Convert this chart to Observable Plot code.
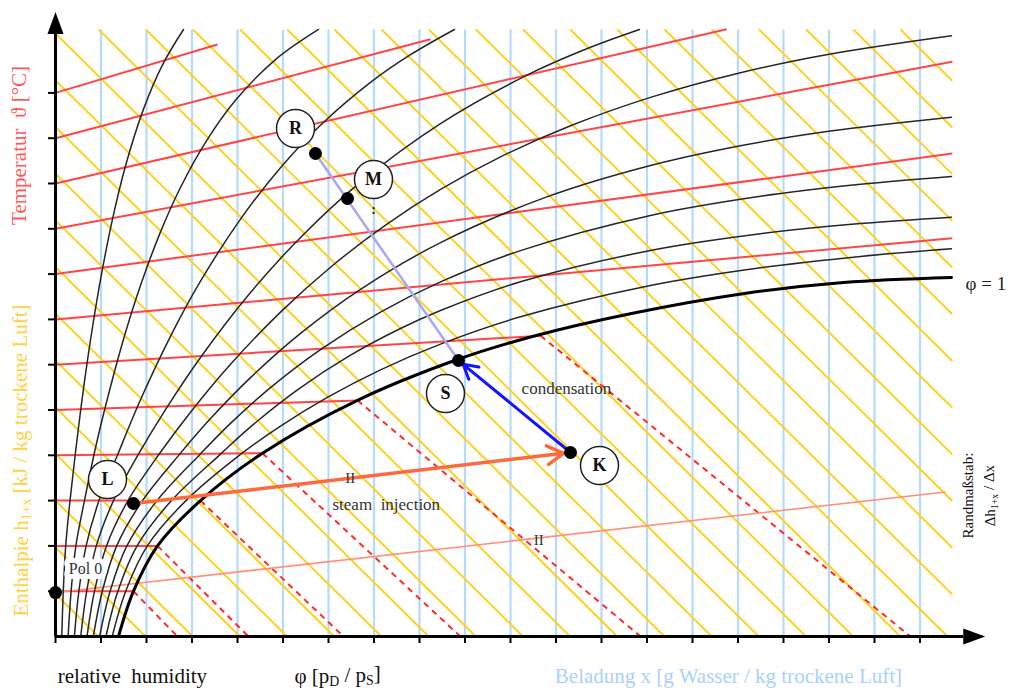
<!DOCTYPE html>
<html><head><meta charset="utf-8">
<script src="https://cdn.jsdelivr.net/npm/d3@7"></script>
<script src="https://cdn.jsdelivr.net/npm/@observablehq/plot@0.6"></script>
<style>body{margin:0;background:#fff}</style>
</head><body><div id="chart"></div>
<script>
// ---------- chart values (x: Beladung tick units, y: enthalpy / temperature tick units) ----------
const xTicks = [0,1,2,3,4,5,6,7,8,9,10,11,12,13,14,15,16,17,18,19];
const yTicks = [1,2,3,4,5,6,7,8,9,10,11,12];
const moistureGrid = [1,2,3,4,5,6,7,8,9,10,11,12,13,14,15,16,17,18,19];
const gridRight = 19.71, gridTop = 13.4;
const isenthalpSlope = 0.9944;
const enthalpyIntercepts = [0.938,1.969,3.0,4.031,5.062,6.093,7.124,8.155,9.186,10.217,11.248,12.279,13.31,
  14.341,15.372,16.403,17.434,18.465,19.496,20.527,21.558,22.589,23.62,24.651,25.682,26.713,27.744,28.775,29.806,30.837,31.868];
const isothermLevels = [1,2,3,4,5,6,7,8,9,10,11,12];
const isothermSlopes = [0,0,0,0.01,0.032,0.06,0.091,0.135,0.187,0.231,0.265,0.30];
const isothermEndX = [1.714,2.242,1.714,4.549,6.637,10.66,19.71,19.71,19.71,14.75,8.24,3.56];
const fogStartX = [1.714,2.242,3.187,4.549,6.637,10.66];
const fogEndX = [2.68,4.24,6.33,8.90,12.86,18.79];

const phiLevels = ["0.1","0.2","0.3","0.4","0.5","0.6","0.7","0.8","0.9","1"];
const phi01 = [[0.138,0],[0.171,1],[0.224,2],[0.319,3],[0.44,4.073],[0.593,5.3],[0.769,6.541],[0.989,7.876],[1.253,9.212],[1.538,10.386],[1.934,11.642],[2.352,12.62],[2.813,13.4]];
const phi02 = [[0.277,0],[0.343,1],[0.448,2],[0.637,3],[0.901,4.26],[1.209,5.512],[1.538,6.709],[1.868,7.748],[2.308,8.932],[2.747,9.912],[3.297,10.909],[3.956,11.837],[4.835,12.735],[5.78,13.4]];
const phi03 = [[0.415,0],[0.514,1],[0.673,2],[0.956,3],[1.365,4.013],[1.868,5.225],[2.527,6.627],[3.187,7.843],[4.066,9.214],[4.945,10.349],[5.824,11.287],[6.923,12.232],[7.802,12.843],[8.769,13.4]];
const phi04 = [[0.554,0],[0.686,1],[0.897,2],[1.275,3],[1.82,4.018],[2.418,5.009],[3.187,6.159],[4.286,7.592],[5.385,8.808],[6.703,10.029],[8.462,11.324],[10.44,12.43],[11.758,13.007],[12.835,13.4]];
const phi05 = [[0.692,0],[0.857,1],[1.121,2],[1.593,3],[2.275,4.022],[2.967,4.951],[3.846,6.009],[4.945,7.161],[6.044,8.152],[7.253,9.082],[8.462,9.868],[9.78,10.587],[11.319,11.274],[13.077,11.901],[15.055,12.446],[17.033,12.859],[19.692,13.263]];
const phi06 = [[0.831,0],[1.029,1],[1.345,2],[1.912,3],[2.73,4.026],[3.407,4.81],[4.286,5.715],[5.385,6.691],[6.703,7.664],[8.462,8.695],[10.769,9.693],[13.077,10.397],[15.055,10.834],[17.033,11.157],[19.692,11.464]];
const phi07 = [[0.969,0],[1.2,1],[1.569,2],[2.231,3],[3.185,4.031],[3.846,4.704],[4.725,5.494],[5.824,6.333],[7.143,7.161],[8.462,7.828],[10.22,8.519],[13.077,9.294],[15.495,9.717],[17.692,9.982],[19.692,10.155]];
const phi08 = [[1.108,0],[1.371,1],[1.793,2],[2.549,3],[3.64,4.038],[4.286,4.629],[5.31,5.441],[6.484,6.21],[7.582,6.799],[8.462,7.196],[10.22,7.83],[13.077,8.521],[15.495,8.89],[17.692,9.115],[19.692,9.256]];
const phi09 = [[1.246,0],[1.543,1],[2.018,2],[2.868,3],[4.095,4.042],[4.945,4.645],[5.974,5.278],[7.143,5.887],[8.462,6.455],[10.22,7.057],[13.077,7.748],[15.495,8.139],[17.692,8.391],[19.692,8.559]];
const phi10 = [[1.385,0],[1.714,1],[2.242,2],[3.187,3],[4.549,4.046],[6.637,5.214],[8.835,6.115],[10.484,6.623],[12.659,7.13],[15.143,7.572],[17.319,7.815],[19.692,7.925]];
const phiCurves = [phi01,phi02,phi03,phi04,phi05,phi06,phi07,phi08,phi09,phi10];

const stateNames = ["R","M","S","K","L"];
const stateX = [5.714,6.418,8.857,11.319,1.714];
const stateY = [10.662,9.669,6.093,4.062,2.936];
const labelX = [5.275,6.989,8.571,11.956,1.143];
const labelY = [11.214,10.088,5.364,3.775,3.466];
const pole = {x: 0, y: 0.97};
const poleLineEnd = {x: 19.56, y: 3.19};
const axisEnds = {x: 19.95, y: 13.3};

// ---------- derived geometry ----------
const phiRows = [];
phiLevels.forEach((p, i) => phiCurves[i].forEach(([x, y]) => phiRows.push({phi: p, x, y})));
const st = Object.fromEntries(stateNames.map((n, i) => [n, {x: stateX[i], y: stateY[i]}]));

const yellowSegs = enthalpyIntercepts.map(c => {
  let x1 = 0, y1 = c;
  if (c > gridTop) { x1 = (c - gridTop) / isenthalpSlope; y1 = gridTop; }
  let x2 = c / isenthalpSlope, y2 = 0;
  if (x2 > gridRight) { x2 = gridRight; y2 = c - isenthalpSlope * gridRight; }
  return {x1, y1, x2, y2};
}).filter(d => d.x1 < d.x2);
const blueSegs = moistureGrid.map(x => ({x1: x, y1: 0, x2: x, y2: gridTop}));
const isoSegs = isothermLevels.map((k, i) => ({x1: 0, y1: k, x2: isothermEndX[i], y2: k + isothermSlopes[i] * isothermEndX[i]}));
const fogSegs = fogStartX.map((x, i) => ({x1: x, y1: isothermLevels[i] + isothermSlopes[i] * x, x2: fogEndX[i], y2: 0}));
const L = d => ({x1: "x1", y1: "y1", x2: "x2", y2: "y2", ...d});

const arrowHead = {draw(ctx) { ctx.moveTo(0, -22); ctx.lineTo(8, 0); ctx.lineTo(-8, 0); ctx.closePath(); }};
const serif = "'Liberation Serif', 'Times New Roman', serif";

const texts = [
  {x: -0.79, y: 10.84, t: "Temperatur  ϑ [°C]", c: "#ff5a5a", r: -90, s: 21},
  {x: -0.75, y: 3.885, t: "Enthalpie h_{1+x} [kJ / kg trockene Luft]", c: "#ffd23f", r: -90, s: 21},
  {x: 1.69, y: -0.88, t: "relative  humidity", c: "#111", r: 0, s: 21},
  {x: 6.2, y: -0.88, t: "φ [p_{D} / p_{S}]", c: "#111", r: 0, s: 21},
  {x: 14.79, y: -0.88, t: "Beladung x [g Wasser / kg trockene Luft]", c: "#a9d1fb", r: 0, s: 21},
  {x: 7.27, y: 2.91, t: "steam  injection", c: "#333", r: 0, s: 17},
  {x: 11.23, y: 5.47, t: "condensation", c: "#333", r: 0, s: 17},
  {x: 20.07, y: 3.11, t: "Randmaßstab:", c: "#111", r: -90, s: 15},
  {x: 20.55, y: 3.11, t: "Δh_{1+x} / Δx", c: "#111", r: -90, s: 15}
];

const plot = Plot.plot({
  width: 1015, height: 690,
  marginLeft: 55, marginRight: 4.5, marginTop: 1.8, marginBottom: 54,
  x: {domain: [0, 21]},
  y: {domain: [0, 14]},
  style: {background: "white", fontFamily: serif},
  marks: [
    Plot.link(blueSegs, L({stroke: "#b5d9ff", strokeWidth: 2.2})),
    Plot.link(yellowSegs, L({stroke: "#ffd21f", strokeWidth: 2})),
    Plot.link(isoSegs, L({stroke: "#ff4545", strokeWidth: 2})),
    Plot.link(fogSegs, L({stroke: "#ff2b2b", strokeWidth: 2, strokeDasharray: "6,5"})),
    Plot.link([{x1: pole.x, y1: pole.y, x2: poleLineEnd.x, y2: poleLineEnd.y}], L({stroke: "#ff8f75", strokeWidth: 1.6})),
    Plot.line(phiRows.filter(d => d.phi !== "1"), {x: "x", y: "y", z: "phi", stroke: "#262626", strokeWidth: 1.5, curve: "catmull-rom"}),
    Plot.line(phiRows.filter(d => d.phi === "1"), {x: "x", y: "y", stroke: "#000", strokeWidth: 3, curve: "catmull-rom"}),
    Plot.link([{x1: st.R.x, y1: st.R.y, x2: st.S.x, y2: st.S.y}], L({stroke: "#a8a8f2", strokeWidth: 2.5})),
    Plot.arrow([{x1: st.L.x, y1: st.L.y, x2: st.K.x, y2: st.K.y}], L({stroke: "#ff6a3d", strokeWidth: 3.5, headLength: 8, insetEnd: 7})),
    Plot.arrow([{x1: st.K.x, y1: st.K.y, x2: st.S.x, y2: st.S.y}], L({stroke: "#1414ff", strokeWidth: 3, headLength: 8, insetEnd: 6})),
    Plot.axisX({ticks: xTicks, tickSize: 7, strokeWidth: 2, tickFormat: () => "", label: null}),
    Plot.axisY({ticks: yTicks, tickSize: 7, strokeWidth: 2, tickFormat: () => "", label: null}),
    Plot.link([{x1: 0, y1: 0, x2: axisEnds.x, y2: 0}, {x1: 0, y1: 0, x2: 0, y2: axisEnds.y}], L({stroke: "#000", strokeWidth: 3})),
    Plot.dot([{x: 0, y: axisEnds.y, a: 0}, {x: axisEnds.x, y: 0, a: 90}], {x: "x", y: "y", rotate: "a", symbol: arrowHead, fill: "#000", r: 5}),
    Plot.dot(stateNames.map((n, i) => ({x: stateX[i], y: stateY[i]})).concat([pole]), {x: "x", y: "y", r: 6.5, fill: "#000"}),
    Plot.dot(stateNames.map((n, i) => ({x: labelX[i], y: labelY[i]})), {x: "x", y: "y", r: 19, fill: "white", stroke: "#222", strokeWidth: 1.5}),
    Plot.text(stateNames.map((n, i) => ({x: labelX[i], y: labelY[i], n})), {x: "x", y: "y", text: "n", fontSize: 18, fontWeight: "bold", fill: "#111", fontFamily: serif}),
    Plot.text([{x: 6.99, y: 9.42}], {x: "x", y: "y", text: () => ":", fontSize: 14, fontWeight: "bold", fill: "#222", fontFamily: serif}),
    Plot.text([{x: 6.48, y: 3.49}, {x: 10.62, y: 2.12}], {x: "x", y: "y", text: () => "II", fontSize: 15, fill: "#333", fontFamily: serif}),
    Plot.text([{x: 0.66, y: 1.5}], {x: "x", y: "y", text: () => "Pol 0", fontSize: 16, fill: "#333", stroke: "white", strokeWidth: 10, fontFamily: serif}),
    Plot.text([{x: 20.0, y: 7.79}], {x: "x", y: "y", text: () => "φ = 1", fontSize: 19, fill: "#222", textAnchor: "start", fontFamily: serif}),
    Plot.text(texts, {x: "x", y: "y", text: "t", fill: "c", rotate: "r", fontSize: "s", fontFamily: serif})
  ]
});

// render "_{...}" as subscripts
d3.select(plot).selectAll("text").each(function() {
  const s = this.textContent;
  if (!s.includes("_{")) return;
  const parts = s.split(/_\{([^}]*)\}/);
  this.textContent = "";
  let shifted = false;
  parts.forEach((p, i) => {
    if (!p) return;
    const sub = i % 2 === 1;
    const ts = d3.select(this).append("tspan").text(p);
    if (sub && !shifted) { ts.attr("dy", "0.22em").attr("font-size", "66%"); shifted = true; }
    else if (sub) { ts.attr("font-size", "66%"); }
    else if (shifted) { ts.attr("dy", "-0.22em"); shifted = false; }
  });
});

document.getElementById("chart").appendChild(plot);
</script>
</body></html>
